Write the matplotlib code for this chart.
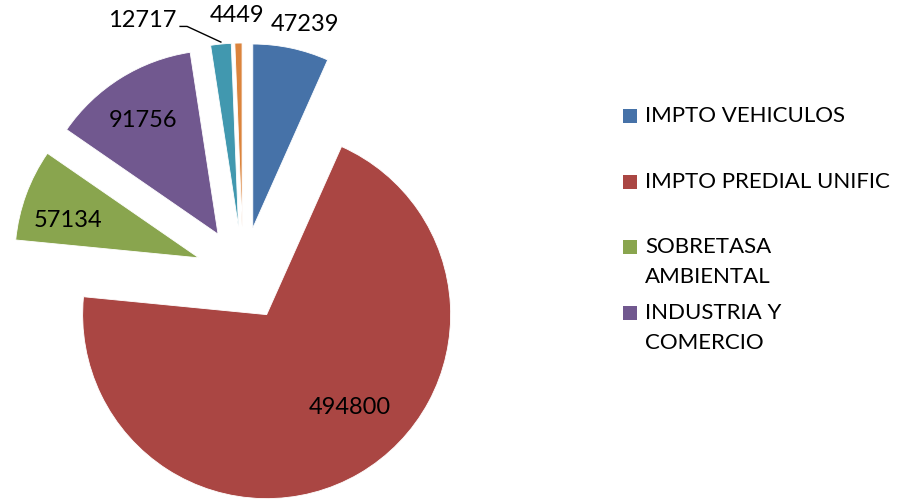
import numpy as np
import matplotlib
matplotlib.use("Agg")
import matplotlib.pyplot as plt
from matplotlib.patches import Rectangle

plt.rcParams['font.family'] = ['Lato', 'DejaVu Sans']

categories = ["IMPTO VEHICULOS", "IMPTO PREDIAL UNIFIC", "SOBRETASA\nAMBIENTAL",
              "INDUSTRIA Y\nCOMERCIO", "OTROS 1", "OTROS 2"]
values = [47239, 494800, 57134, 91756, 12717, 4449]
colors = ["#4672A8", "#AA4643", "#89A54E", "#71588F", "#4198AF", "#DB843D"]
legend_count = 4

# label placement (distance factor of radius, angle offset in degrees)
label_dist = [1.14, 0.68, 0.74, 0.74, 1.24, 1.15]
label_dang = [-2.4, 11.6, 4.0, 1.3, 19.5, 0.2]

W, H = 902, 500
fig = plt.figure(figsize=(W / 100, H / 100), dpi=100)
ax = fig.add_axes([0, 0, 1, 1])

center = (243, 226)
radius = 184
expl = 47

wedges, _ = ax.pie(values, colors=colors, startangle=90, counterclock=False,
                   explode=[expl] * len(values), center=center, radius=radius,
                   wedgeprops=dict(edgecolor='white', linewidth=0.6), frame=True)
ax.set_xlim(0, W)
ax.set_ylim(0, H)
ax.axis('off')

fs = 16
fs_num = 17
for i, w in enumerate(wedges):
    thm = np.deg2rad((w.theta1 + w.theta2) / 2)
    cx, cy = w.center
    th = thm + np.deg2rad(label_dang[i])
    lx = cx + radius * label_dist[i] * np.cos(th)
    ly = cy + radius * label_dist[i] * np.sin(th)
    ax.text(lx, ly, str(values[i]), ha='center', va='center', fontsize=fs_num, color='black')
    if i == 4:
        ox = cx + radius * np.cos(thm)
        oy = cy + radius * np.sin(thm)
        ax.plot([lx + 38, lx + 45, ox], [ly - 6, ly - 6, oy + 2], color='black', lw=1.0)

# legend
leg_x = 623
leg_y = [116, 182, 247, 313]
for i in range(legend_count):
    y = H - leg_y[i]
    ax.add_patch(Rectangle((leg_x, y - 7), 14, 14, facecolor=colors[i], edgecolor='none'))
    lines = categories[i].split("\n")
    for j, ln in enumerate(lines):
        ax.text(leg_x + 22, y - j * 30, ln, ha='left', va='center', fontsize=fs, color='black')

fig.savefig("out.png", dpi=100)
